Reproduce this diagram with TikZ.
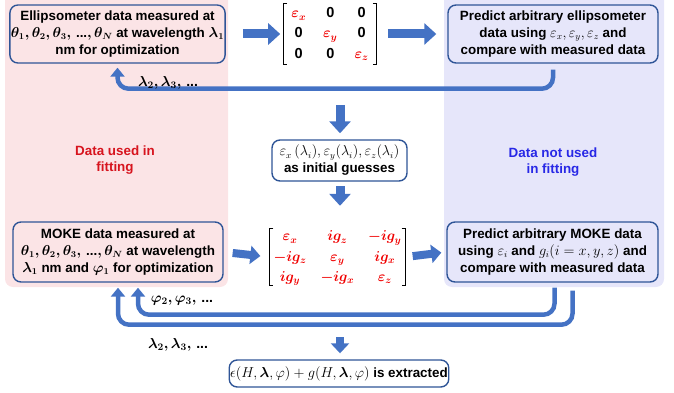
\documentclass[tikz,border=0pt]{standalone}
\usepackage{amsmath,bm}
\usepackage{fontspec}
\setmainfont{Liberation Sans}
\usetikzlibrary{arrows.meta,calc}
\definecolor{pinkbg}{RGB}{251,228,230}
\definecolor{bluebg}{RGB}{230,230,250}
\definecolor{boxline}{RGB}{47,85,151}
\definecolor{arrowblue}{RGB}{68,114,196}
\definecolor{redtxt}{RGB}{215,20,30}
\definecolor{bluetxt}{RGB}{40,40,230}
\definecolor{matred}{RGB}{240,0,0}
\newcommand{\rb}[1]{\textcolor{matred}{\bm{#1}}}
\newcommand{\thetalist}{\bm{\theta_1,\theta_2,\theta_3,}\,\textbf{...}\bm{,\theta_N}}
\newcommand{\looplbl}[1]{\bm{#1}\,\textbf{...}}
\begin{document}
\begin{tikzpicture}[x=1pt,y=-1pt,
  databox/.style={draw=boxline, line width=1.4pt, rounded corners=8pt, align=center,
     font=\bfseries\fontsize{13.4}{17}\selectfont, inner sep=1pt},
  blockarrow/.style={arrowblue, line width=9pt, -{Triangle[width=21pt,length=12pt]}},
  smallblock/.style={arrowblue, line width=8pt, -{Triangle[width=18pt,length=10pt]}},
  fb/.style={arrowblue, line width=4.5pt, rounded corners=11pt, -{Triangle[width=14pt,length=9pt]}},
  lbl/.style={font=\fontsize{14}{17}\selectfont, inner sep=0pt},
  mat/.style={font=\fontsize{14.5}{16.67}\selectfont, inner ysep=0pt},
  bracket/.style={line width=1.2pt, black}
]
\useasboundingbox (0,0) rectangle (674,393);
% backgrounds
\fill[pinkbg, rounded corners=8pt] (5,-12) rectangle (228,287);
\fill[bluebg, rounded corners=8pt] (444,-12) rectangle (664,287);
% boxes
\node[databox, fill=pinkbg, minimum width=209pt, minimum height=58pt] (ellip) at (117.5,34)
  {Ellipsometer data measured at\\ $\thetalist$ at wavelength $\bm{\lambda_1}$\\ nm for optimization};
\node[databox, fill=bluebg, minimum width=210pt, minimum height=58pt] (predE) at (553,34)
  {Predict arbitrary ellipsometer\\ data using $\varepsilon_x,\varepsilon_y,\varepsilon_z$ and\\ compare with measured data};
\node[databox, fill=white, minimum width=135pt, minimum height=41pt] (mid) at (339.5,160.5)
  {$\varepsilon_x\,(\lambda_i),\varepsilon_y(\lambda_i),\varepsilon_z(\lambda_i)$\\ as initial guesses};
\node[databox, fill=pinkbg, minimum width=210pt, minimum height=60pt] (moke) at (118,252)
  {MOKE data measured at\\ $\thetalist$ at wavelength\\ $\bm{\lambda_1}$ nm and $\bm{\varphi_1}$ for optimization};
\node[databox, fill=bluebg, minimum width=211pt, minimum height=60pt] (predM) at (552.5,252)
  {Predict arbitrary MOKE data\\ using $\varepsilon_i$ and $g_i(i=x,y,z)$ and\\ compare with measured data};
\node[databox, fill=white, minimum width=216pt, minimum height=27pt] (final) at (339,373.5)
  {$\epsilon(H,\bm{\lambda},\varphi)+g(H,\bm{\lambda},\varphi)$ is extracted};
% matrices
\node[mat, inner xsep=8pt] (m1) at (330,34)
  {$\renewcommand{\arraystretch}{1.2}\setlength{\arraycolsep}{8.5pt}\begin{array}{@{}ccc@{}}
   \rb{\varepsilon_x} & \mathbf{0} & \mathbf{0}\\
   \mathbf{0} & \rb{\varepsilon_y} & \mathbf{0}\\
   \mathbf{0} & \mathbf{0} & \rb{\varepsilon_z}\end{array}$};
\draw[bracket] ($(m1.north west)+(4,0)$) -- (m1.north west) -- (m1.south west) -- ($(m1.south west)+(4,0)$);
\draw[bracket] ($(m1.north east)+(-4,0)$) -- (m1.north east) -- (m1.south east) -- ($(m1.south east)+(-4,0)$);
\node[mat, inner xsep=4pt] (m2) at (337.5,257)
  {$\renewcommand{\arraystretch}{1.2}\setlength{\arraycolsep}{7pt}\begin{array}{@{}ccc@{}}
   \rb{\varepsilon_x} & \rb{ig_z} & \rb{-ig_y}\\
   \rb{-ig_z} & \rb{\varepsilon_y} & \rb{ig_x}\\
   \rb{ig_y} & \rb{-ig_x} & \rb{\varepsilon_z}\end{array}$};
\draw[bracket] ($(m2.north west)+(4,2)$) -- ($(m2.north west)+(0,2)$) -- ($(m2.south west)+(0,-2)$) -- ($(m2.south west)+(4,-2)$);
\draw[bracket] ($(m2.north east)+(-4,2)$) -- ($(m2.north east)+(0,2)$) -- ($(m2.south east)+(0,-2)$) -- ($(m2.south east)+(-4,-2)$);
% side texts
\node[align=center, text=redtxt, font=\bfseries\fontsize{13.4}{16.5}\selectfont] (used) at (115,160)
  {Data used in\\ fitting};
\node[align=center, text=bluetxt, font=\bfseries\fontsize{13.4}{16.5}\selectfont] (notused) at (553,162)
  {Data not used\\ in fitting};
% block arrows
\draw[blockarrow, shorten <=17pt, shorten >=3pt] (ellip.east) -- (m1.west);
\draw[blockarrow, shorten <=11pt, shorten >=11pt] (m1.east) -- (predE.west);
\coordinate (d1) at (340,105);
\draw[blockarrow, shorten >=6pt] (d1) -- (d1 |- mid.north);
\coordinate (d2) at (340,186);
\draw[blockarrow, shorten >=21pt] (d2) -- (d2 |- m2.north);
\draw[smallblock, shorten <=9pt, shorten >=9pt] (moke.east) -- (m2.west);
\draw[smallblock, shorten <=7pt, shorten >=5pt] (m2.east) -- (predM.west);
\coordinate (d3) at (340,337);
\draw[smallblock, shorten >=6pt] (d3) -- (d3 |- final.north);
% feedback loops
\draw[fb] ($(predE.south)+(0,6)$) |- ($(ellip.south)+(0,25)$) -- ($(ellip.south)+(0,4)$);
\draw[fb] ($(predM.south)+(2,5)$) |- ($(moke.south)+(20,32)$) -- ($(moke.south)+(20,5)$);
\draw[fb] ($(predM.south)+(20,8)$) |- ($(moke.south)+(0,42)$) -- ($(moke.south)+(0,5)$);
% loop labels
\node[lbl] (l1) at (168,83) {$\looplbl{\lambda_2,\lambda_3,}$};
\node[lbl] (l2) at (182,301) {$\looplbl{\varphi_2,\varphi_3,}$};
\node[lbl] (l3) at (178,345) {$\looplbl{\lambda_2,\lambda_3,}$};
\end{tikzpicture}
\end{document}
